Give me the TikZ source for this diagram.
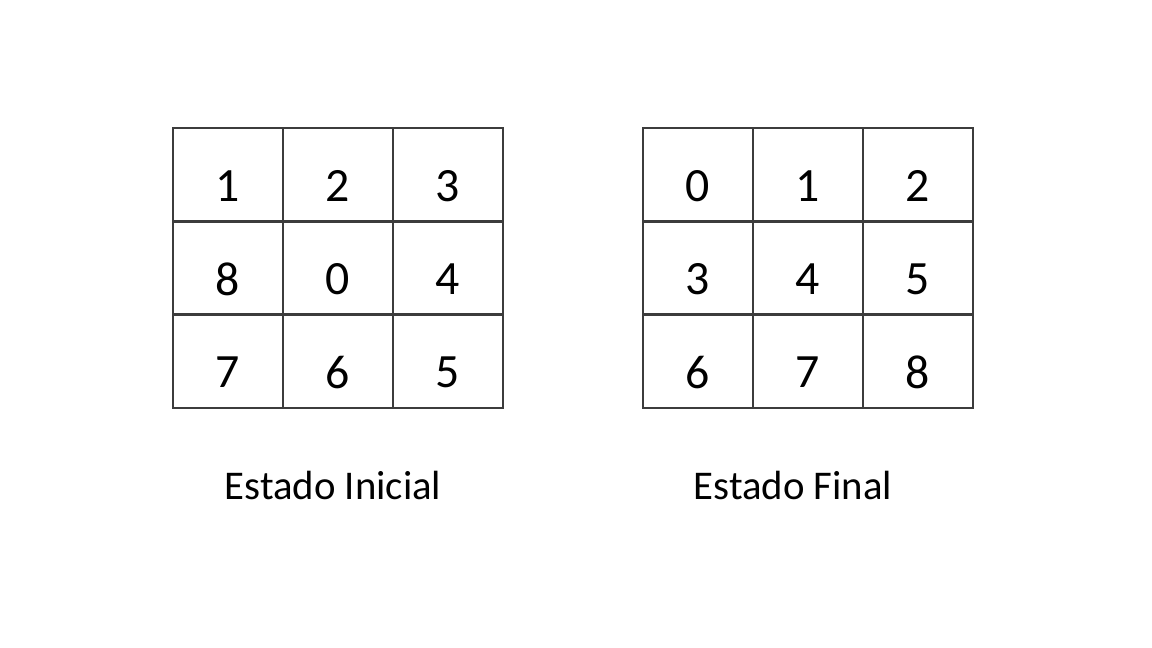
\documentclass[tikz,border=0pt]{standalone}
\usepackage{fontspec}
\setmainfont{Carlito}
\usetikzlibrary{positioning}
\definecolor{gridline}{HTML}{3C3C3C}
\tikzset{
  cellnum/.style={font=\fontsize{34}{40}\selectfont,inner sep=0},
  caption/.style={font=\fontsize{29}{34}\selectfont,inner sep=0},
  gridlines/.style={draw=gridline,line width=2pt}
}

\begin{document}
\begin{tikzpicture}
    \useasboundingbox (0,0) rectangle (28.8,16.2);

    % tablero inicial
    \begin{scope}[shift={(4.325,6)}]
      \draw[gridlines] (0,0) grid[xstep=2.75,ystep=2.3333] (8.25,7);
      \draw[gridlines] (0,0) rectangle (8.25,7);
      \foreach \n [count=\i from 0] in {1,2,3,8,0,4,7,6,5} {
        \pgfmathsetmacro{\cx}{1.375+2.75*mod(\i,3)}
        \pgfmathsetmacro{\cy}{5.55-2.3333*floor(\i/3)}
        \node[cellnum] (ini\i) at (\cx,\cy) {\n};
      }
    \end{scope}
    \node[caption] (ini) at (8.325,4.05) {Estado Inicial};

    % tablero final
    \begin{scope}[shift={(16.075,6)}]
      \draw[gridlines] (0,0) grid[xstep=2.75,ystep=2.3333] (8.25,7);
      \draw[gridlines] (0,0) rectangle (8.25,7);
      \foreach \n [count=\i from 0] in {0,1,2,3,4,5,6,7,8} {
        \pgfmathsetmacro{\cx}{1.375+2.75*mod(\i,3)}
        \pgfmathsetmacro{\cy}{5.55-2.3333*floor(\i/3)}
        \node[cellnum] (fin\i) at (\cx,\cy) {\n};
      }
    \end{scope}
    \node[caption] (fin) at (19.825,4.05) {Estado Final};
\end{tikzpicture}
\end{document}
